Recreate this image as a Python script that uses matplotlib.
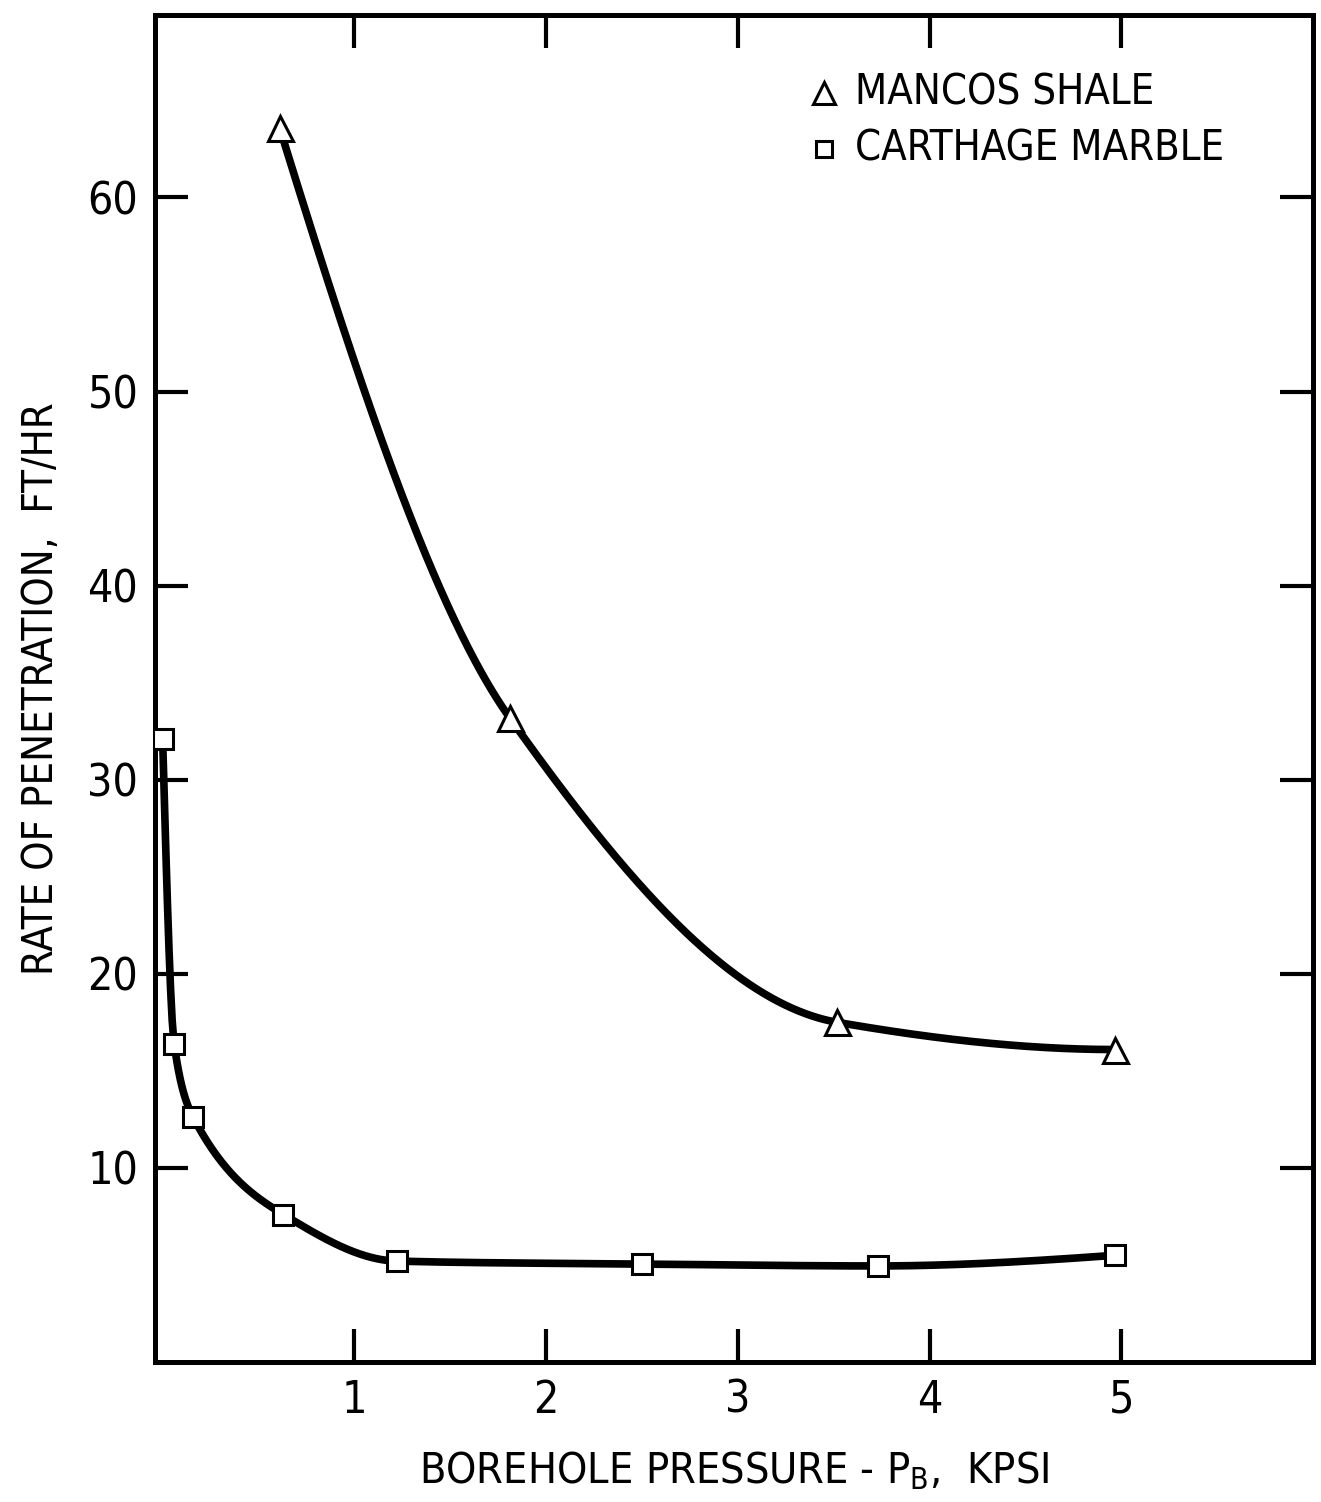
import numpy as np
import matplotlib
matplotlib.use("Agg")
import matplotlib.pyplot as plt

# ---- data ----
shale_x = [0.61, 1.81, 3.52, 4.97]
shale_y = [63.6, 33.2, 17.5, 16.1]
marble_x = [0.0, 0.06, 0.16, 0.63, 1.22, 2.50, 3.73, 4.97]
marble_y = [32.1, 16.4, 12.6, 7.6, 5.2, 5.05, 4.95, 5.5]
xticks = [1, 2, 3, 4, 5]
yticks = [10, 20, 30, 40, 50, 60]
legend_labels = ["MANCOS SHALE", "CARTHAGE MARBLE"]

plt.rcParams['font.family'] = ['DejaVu Sans']
plt.rcParams['font.stretch'] = 'condensed'
plt.rcParams['mathtext.fontset'] = 'custom'
plt.rcParams['mathtext.rm'] = 'DejaVu Sans'


def pchip(x, y, xs):
    x = np.asarray(x, float); y = np.asarray(y, float)
    h = np.diff(x); d = np.diff(y) / h
    n = len(x)
    m = np.zeros(n)
    for k in range(1, n - 1):
        if d[k - 1] * d[k] > 0:
            w1 = 2 * h[k] + h[k - 1]; w2 = h[k] + 2 * h[k - 1]
            m[k] = (w1 + w2) / (w1 / d[k - 1] + w2 / d[k])
    def end(h0, h1, d0, d1):
        mm = ((2 * h0 + h1) * d0 - h0 * d1) / (h0 + h1)
        if np.sign(mm) != np.sign(d0):
            mm = 0
        elif np.sign(d0) != np.sign(d1) and abs(mm) > abs(3 * d0):
            mm = 3 * d0
        return mm
    m[0] = end(h[0], h[1], d[0], d[1])
    m[-1] = end(h[-1], h[-2], d[-1], d[-2])
    idx = np.clip(np.searchsorted(x, xs) - 1, 0, n - 2)
    t = (xs - x[idx]) / h[idx]
    h00 = 2 * t**3 - 3 * t**2 + 1; h10 = t**3 - 2 * t**2 + t
    h01 = -2 * t**3 + 3 * t**2; h11 = t**3 - t**2
    return h00 * y[idx] + h10 * h[idx] * m[idx] + h01 * y[idx + 1] + h11 * h[idx] * m[idx + 1]


fig = plt.figure(figsize=(13.21, 15.02), dpi=100)
ax = fig.add_axes([0.1173, 0.0932, 0.8766, 0.8968])
ax.set_xlim(-0.04, 6.0)
ax.set_ylim(0, 69.4)

for xs_, ys_, mk, ms in [(shale_x, shale_y, '^', 18), (marble_x, marble_y, 's', 15)]:
    xx = np.linspace(xs_[0], xs_[-1], 600)
    ax.plot(xx, pchip(xs_, ys_, xx), color='black', lw=5.5, solid_capstyle='round', zorder=2)
    ax.plot(xs_, ys_, linestyle='none', marker=mk, markersize=ms, markerfacecolor='white',
            markeredgecolor='black', markeredgewidth=2.2, zorder=3)

ax.set_xticks(xticks)
ax.set_yticks(yticks)
ax.tick_params(direction='in', length=24, width=3, top=True, right=True,
               labelsize=32, pad=12)
for s in ax.spines.values():
    s.set_linewidth(3.6)

ax.set_xlabel("BOREHOLE PRESSURE - P$_\\mathregular{B}$,  KPSI", fontsize=31, labelpad=20)
ax.set_ylabel("RATE OF PENETRATION,  FT/HR", fontsize=30, labelpad=18)

# legend
ax.plot([3.45], [65.4], linestyle='none', marker='^', markersize=16, markerfacecolor='white',
        markeredgecolor='black', markeredgewidth=2.2)
ax.plot([3.45], [62.5], linestyle='none', marker='s', markersize=12, markerfacecolor='white',
        markeredgecolor='black', markeredgewidth=2.2)
ax.text(3.61, 65.4, legend_labels[0], fontsize=30, va='center', ha='left')
ax.text(3.61, 62.5, legend_labels[1], fontsize=30, va='center', ha='left')

fig.savefig("out.png", dpi=100)
